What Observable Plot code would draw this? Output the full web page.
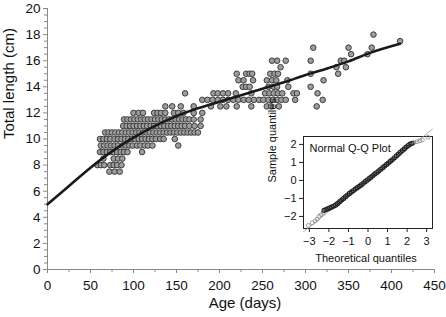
<!DOCTYPE html>
<html><head><meta charset="utf-8">
<script src="https://cdn.jsdelivr.net/npm/d3@7"></script>
<script src="https://cdn.jsdelivr.net/npm/@observablehq/plot@0.6"></script>
<style>
html,body{margin:0;padding:0;background:#fff;}
#wrap{position:relative;width:446px;height:317px;}
#wrap svg{position:absolute;}
</style></head><body><div id="wrap"></div>
<script>
// ---- Observations: ages (days) for each total length row (cm)
const L7_5 = [72, 78, 84];
const L8_0 = [58, 62, 66, 73, 77, 81, 86];
const L8_5 = [65, 77, 82, 87];
const L9_0 = [61, 65, 69, 73, 77, 81, 85, 89, 93, 110];
const L9_5 = [62, 66, 70, 74, 78, 82, 87, 91, 95, 99, 104, 108, 113, 117, 122, 152];
const L10_0 = [61, 65, 69, 73, 78, 82, 86, 90, 94, 98, 102, 106, 110, 114, 118, 122, 126, 131, 135, 148];
const L10_5 = [67, 71, 75, 79, 83, 87, 91, 95, 99, 103, 107, 111, 115, 119, 123, 127, 131, 135, 139, 143, 147, 151, 155, 159, 163, 167, 171, 175];
const L11_0 = [88, 92, 96, 100, 104, 108, 112, 116, 120, 124, 128, 132, 136, 140, 144, 148, 152, 156, 160, 165, 171, 178];
const L11_5 = [89, 93, 97, 101, 105, 109, 113, 117, 121, 125, 129, 133, 137, 141, 145, 149, 153, 157, 161, 165, 170, 178];
const L12_0 = [100, 106, 111, 124, 128, 132, 137, 147, 152, 158, 170, 180];
const L12_5 = [137, 145, 155, 170, 190, 201, 208, 220, 237, 255, 260, 269, 313];
const L13_0 = [180, 186, 192, 198, 204, 210, 216, 222, 228, 234, 240, 246, 251, 257, 262, 267, 272, 277, 288, 320];
const L13_5 = [160, 193, 198, 204, 210, 219, 237, 253, 258, 263, 268, 273, 286, 290, 314];
const L14_0 = [227, 231, 235, 257, 263, 267, 280, 306];
const L14_5 = [222, 228, 239, 255, 261, 266, 279, 321];
const L15_0 = [220, 231, 235, 238, 259, 264, 268, 306, 338];
const L15_5 = [271, 336, 347];
const L16_0 = [261, 267, 277, 306, 341, 345];
const L16_5 = [353, 372];
const L17_0 = [309, 350, 377];
const L17_5 = [410];
const L18_0 = [379];

const rowLengths = [7.5, 8, 8.5, 9, 9.5, 10, 10.5, 11, 11.5, 12, 12.5, 13, 13.5, 14, 14.5, 15, 15.5, 16, 16.5, 17, 17.5, 18];
const rowAges = [L7_5, L8_0, L8_5, L9_0, L9_5, L10_0, L10_5, L11_0, L11_5, L12_0, L12_5, L13_0, L13_5, L14_0, L14_5, L15_0, L15_5, L16_0, L16_5, L17_0, L17_5, L18_0];

// ---- Fitted growth curve
const curveAge = [0, 25, 50, 75, 100, 125, 150, 175, 200, 225, 250, 275, 300, 325, 350, 375, 410];
const curveLen = [5.0, 6.4, 7.8, 9.05, 10.1, 11.0, 11.75, 12.35, 12.85, 13.35, 13.85, 14.35, 14.9, 15.4, 15.95, 16.6, 17.3];

// ---- Axis ticks
const xTicks = [0, 50, 100, 150, 200, 250, 300, 350, 400, 450];
const xMinorTicks = [25, 75, 125, 175, 225, 275, 325, 375, 425];
const yTicks = [0, 2, 4, 6, 8, 10, 12, 14, 16, 18, 20];
const yMinorTicks = d3.range(0, 20.01, 0.5).filter(v => v % 2 !== 0);

// ---- Q-Q inset
const qqTailT = [-3.05, -2.85, -2.7, -2.6, -2.5, -2.4, -2.3, 2.35, 2.5, 2.65, 2.78, 3.07];
const qqTailS = [-2.5, -2.35, -2.25, -2.15, -2.0, -1.9, -1.8, 2.1, 2.15, 2.2, 2.25, 2.4];
const qqT = [-2.25, -2.15, -2.05, -1.95, -1.85, -1.75, -1.65, -1.55, -1.45, -1.35, -1.25, -1.15, -1.05, -0.95, -0.85, -0.75, -0.65, -0.55, -0.45, -0.35, -0.25, -0.15, -0.05, 0.05, 0.15, 0.25, 0.35, 0.45, 0.55, 0.65, 0.75, 0.85, 0.95, 1.05, 1.15, 1.25, 1.35, 1.45, 1.55, 1.65, 1.75, 1.85, 1.95, 2.05, 2.15, 2.25];
const qqS = [-1.66, -1.62, -1.57, -1.52, -1.47, -1.42, -1.36, -1.28, -1.18, -1.09, -1.0, -0.9, -0.81, -0.72, -0.64, -0.56, -0.48, -0.40, -0.33, -0.25, -0.16, -0.07, 0.01, 0.1, 0.18, 0.27, 0.36, 0.44, 0.53, 0.62, 0.71, 0.80, 0.89, 0.98, 1.07, 1.16, 1.26, 1.36, 1.46, 1.56, 1.66, 1.75, 1.85, 1.94, 2.02, 2.06];
const qqLineT = [-3.3, 3.3];
const qqLineS = [-2.85, 2.85];
const qqXTicks = [-3, -2, -1, 0, 1, 2, 3];
const qqYTicks = [-2, -1, 0, 1, 2];

const FONT = '"Liberation Sans", Arial, Helvetica, sans-serif';

const points = rowLengths.flatMap((L, i) => rowAges[i].map(a => ({age: a, len: L})));
const curve = curveAge.map((a, i) => ({age: a, len: curveLen[i]}));

const main = Plot.plot({
  width: 446, height: 317,
  marginLeft: 47, marginRight: 12, marginTop: 8, marginBottom: 48,
  style: {fontFamily: FONT, fontSize: "13px", color: "#111", background: "transparent", overflow: "visible"},
  x: {domain: [0, 450], label: null},
  y: {domain: [0, 20], label: null},
  marks: [
    Plot.ruleY([0], {stroke: "#888", strokeWidth: 1}),
    Plot.ruleX([0], {stroke: "#888", strokeWidth: 1}),
    Plot.axisX({ticks: xMinorTicks, tickSize: 3, tickFormat: () => "", stroke: "#888", label: null}),
    Plot.axisX({ticks: xTicks, tickSize: 4, tickPadding: 7, stroke: "#888", fill: "#111", fontSize: 13.5, label: null}),
    Plot.axisY({ticks: yMinorTicks, tickSize: 3, tickFormat: () => "", stroke: "#888", label: null}),
    Plot.axisY({ticks: yTicks, tickSize: 4, tickPadding: 3, stroke: "#888", fill: "#111", fontSize: 13.5, label: null}),
    Plot.dot(points, {x: "age", y: "len", r: 2.8, fill: "#9c9c9c", stroke: "#3c3c3c", strokeWidth: 1}),
    Plot.line(curve, {x: "age", y: "len", curve: "monotone-x", stroke: "#1a1a1a", strokeWidth: 2.6}),
    Plot.text(["Age (days)"], {text: d => d, frameAnchor: "bottom", dy: 38, dx: 4, fontSize: 15, fill: "#111"}),
    Plot.text(["Total length (cm)"], {text: d => d, frameAnchor: "left", dx: -38, rotate: -90, fontSize: 15, fill: "#111"})
  ]
});

const fmt = d => d < 0 ? "\u2212" + (-d) : String(d);
const qqMid = qqT.map((t, i) => ({t, s: qqS[i]}));
const qqTail = qqTailT.map((t, i) => ({t, s: qqTailS[i]}));
const qqRef = qqLineT.map((t, i) => ({t, s: qqLineS[i]}));

const inset = Plot.plot({
  width: 180, height: 140,
  marginLeft: 43, marginRight: 8, marginTop: 8, marginBottom: 40,
  style: {fontFamily: FONT, fontSize: "11px", color: "#111", background: "transparent", overflow: "visible"},
  x: {domain: [-3.3, 3.3], label: null},
  y: {domain: [-2.67, 2.44], label: null},
  marks: [
    Plot.frame({fill: "white", stroke: "#222", strokeWidth: 1}),
    Plot.line(qqRef, {x: "t", y: "s", stroke: "#999", strokeWidth: 0.8}),
    Plot.dot(qqTail, {x: "t", y: "s", r: 2, fill: "none", stroke: "#888", strokeWidth: 0.8}),
    Plot.dot(qqMid, {x: "t", y: "s", r: 2, fill: "none", stroke: "#222", strokeWidth: 1.2}),
    Plot.axisX({ticks: qqXTicks, tickSize: 4, tickPadding: 5, tickFormat: fmt, stroke: "#222", fill: "#111", fontSize: 11, label: null}),
    Plot.axisY({ticks: qqYTicks, tickSize: 4, tickPadding: 3, tickFormat: fmt, stroke: "#222", fill: "#111", fontSize: 11, label: null}),
    Plot.text(["Normal Q-Q Plot"], {text: d => d, frameAnchor: "top-left", dx: 6, dy: 8, textAnchor: "start", fontSize: 11, fill: "#111"}),
    Plot.text(["Theoretical quantiles"], {text: d => d, frameAnchor: "bottom", dy: 33, dx: -2, fontSize: 11, fill: "#111"}),
    Plot.text(["Sample quantiles"], {text: d => d, frameAnchor: "left", dx: -31, rotate: -90, fontSize: 11, fill: "#111"})
  ]
});

const wrap = document.getElementById("wrap");
main.style.left = "0px"; main.style.top = "0px";
inset.style.left = "260px"; inset.style.top = "128px";
wrap.appendChild(main);
wrap.appendChild(inset);
</script>
</body></html>
